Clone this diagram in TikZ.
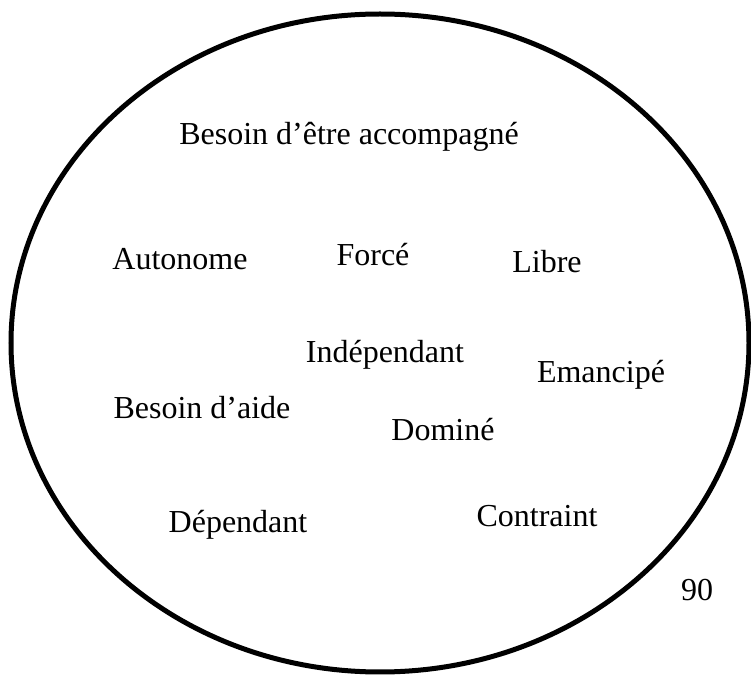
\documentclass[tikz,border=0pt]{standalone}
\usepackage{fontspec}
\setmainfont{Liberation Serif}
\tikzset{word/.style={anchor=base, inner sep=0pt, font=\fontsize{24}{28}\selectfont}}
\begin{document}
\begin{tikzpicture}[x=0.75pt, y=-0.75pt]
    \useasboundingbox (0,0) rectangle (751,677);
    \draw[line width=3.75pt] (380,343) ellipse [x radius=276.75pt, y radius=246.75pt];
    \node[word] (acc) at (349,145)  {Besoin d’être accompagné};
    \node[word] (auto) at (180,270)  {Autonome};
    \node[word] (force) at (373,266)  {Forcé};
    \node[word] (libre) at (547,273)  {Libre};
    \node[word] (indep) at (385,363)  {Indépendant};
    \node[word] (eman) at (601,383)  {Emancipé};
    \node[word] (aide) at (202,419)  {Besoin d’aide};
    \node[word] (domine) at (443,441)  {Dominé};
    \node[word] (dep) at (238,533)  {Dépendant};
    \node[word] (contr) at (537,527)  {Contraint};
    \node[word] (page) at (697,601)  {90};
  \end{tikzpicture}
\end{document}
